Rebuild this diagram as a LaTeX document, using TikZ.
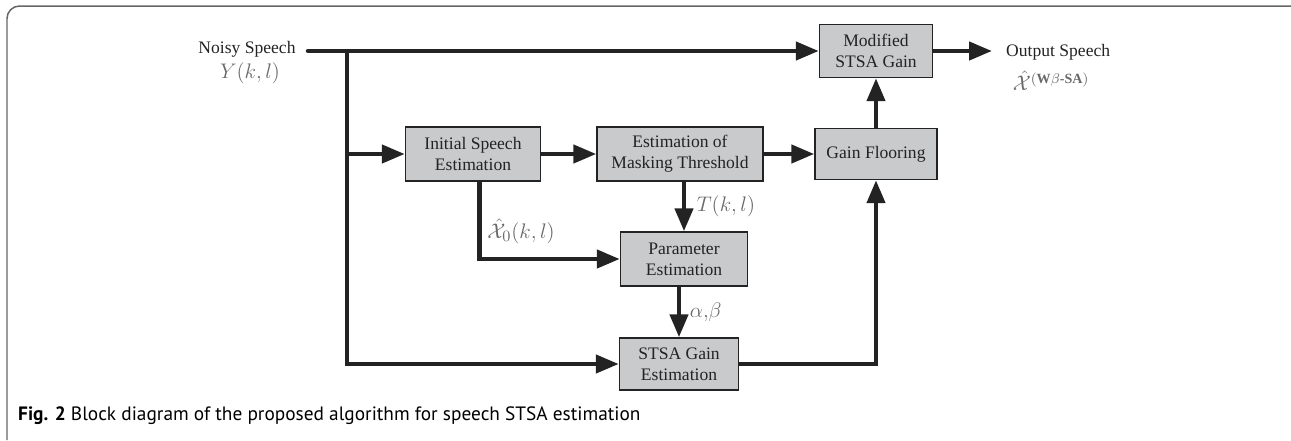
\documentclass[tikz,border=0pt]{standalone}
\usepackage{amsmath}
\usepackage{fontspec}
\setmainfont{Liberation Serif}
\newfontfamily\capfont{PT Sans}
\usetikzlibrary{arrows.meta}
\definecolor{boxgray}{RGB}{201,202,204}
\definecolor{ink}{RGB}{35,35,35}
\definecolor{labgray}{RGB}{105,105,105}

\begin{document}
\begin{tikzpicture}[x=0.02cm,y=-0.02cm,
  blk/.style={draw=ink,line width=0.03cm,fill=boxgray,align=center,inner sep=0,text=ink,font=\fontsize{10}{12}\selectfont},
  arr/.style={line width=0.09cm,draw=ink,-{Triangle[length=0.46cm,width=0.36cm]}},
  lab/.style={text=labgray,inner sep=2pt,font=\fontsize{12.5}{14}\selectfont},
  txt/.style={text=ink,font=\fontsize{10}{12}\selectfont}]
\useasboundingbox (0,0) rectangle (1291,440);
\draw[gray!80!black,line width=0.03cm,rounded corners=0.25cm] (1291,6) -- (7,6) -- (7,440);

% blocks
\node[blk,minimum width=2.26cm,minimum height=1.06cm] (mod) at (876,51) {Modified\\STSA Gain};
\node[blk,minimum width=2.7cm,minimum height=1.08cm] (init) at (473,154) {Initial Speech\\Estimation};
\node[blk,minimum width=3.32cm,minimum height=1.08cm] (mask) at (680,154) {Estimation of\\Masking Threshold};
\node[blk,minimum width=2.44cm,minimum height=1.02cm] (floor) at (876,154) {Gain Flooring};
\node[blk,minimum width=2.54cm,minimum height=1.08cm] (param) at (684,259) {Parameter\\Estimation};
\node[blk,minimum width=2.38cm,minimum height=1.04cm] (gain) at (679,364) {STSA Gain\\Estimation};

% signals
\node[txt] (noisy) at (247,49) {Noisy Speech};
\node[lab] (ysig) at (250,73) {$Y(k,l)$};
\node[txt,anchor=west] (outtxt) at (1000,52) {Output Speech};
\node[lab,font=\fontsize{12}{14}\selectfont] (xout) at (1051,81) {$\hat{\mathcal{X}}^{(\mathbf{W}\beta\textbf{-SA})}$};
\coordinate (in) at (308,51);
\coordinate (split) at (347,51);
\coordinate (out) at (992,51);

\draw[arr,line cap=round] (in) -- (mod.west);
\draw[arr] (split) |- (gain.west);
\draw[arr] (split |- init.west) -- (init.west);
\foreach \a/\b in {init/mask,mask/floor}{%
  \draw[arr] (\a.east) -- (\b.west);}
\draw[arr] (floor.north) -- (mod.south);
\draw[arr] (mod.east) -- (out);
\draw[arr] ([xshift=0.13cm]init.south) |- (param.west);
\node[lab] (xzero) at (521,231) {$\hat{\mathcal{X}}_0(k,l)$};
\draw[arr] (param.north |- mask.south) -- (param.north) node[lab,right,midway,xshift=0.14cm] (tlab) {$T(k,l)$};
\draw[arr] (param.south -| gain.north) -- (gain.north) node[lab,right,midway,xshift=0.1cm] (ablab) {$\alpha,\!\beta$};
\draw[arr] (gain.east) -| (floor.south);

\node[anchor=west,text=black,font=\capfont\fontsize{11}{13}\selectfont] (cap) at (12,416) {\textbf{Fig. 2} Block diagram of the proposed algorithm for speech STSA estimation};
\end{tikzpicture}
\end{document}
